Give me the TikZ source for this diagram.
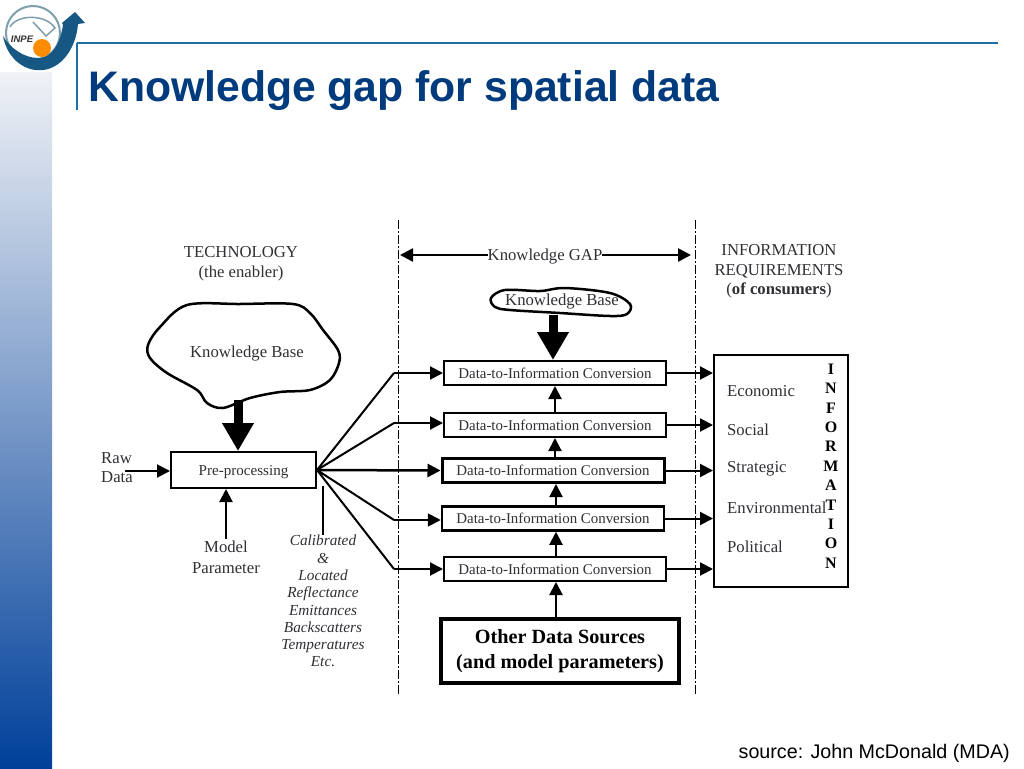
\documentclass[tikz,border=0pt]{standalone}
\usepackage{fontspec}
\setmainfont{Liberation Serif}
\newfontfamily\slidefont{Liberation Sans}
\usetikzlibrary{arrows.meta}

\definecolor{slideblue}{HTML}{003C7D}
\definecolor{rulecolor}{HTML}{1C6EA4}
\definecolor{inktext}{HTML}{303036}
\definecolor{bandtop}{HTML}{F0F2F6}
\definecolor{bandmid}{HTML}{8DABD2}
\definecolor{bandlow}{HTML}{00409A}

\tikzset{
  txt/.style={text=inktext, inner sep=0pt, font=\fontsize{16.7}{19.7}\selectfont},
  itxt/.style={txt, font=\fontsize{15.3}{17.3}\selectfont\itshape},
  boxnode/.style={draw=black, fill=white, line width=2pt, inner sep=0pt, text=inktext,
                  font=\fontsize{14.9}{16}\selectfont},
  convbox/.style={boxnode, minimum width=222pt, minimum height=24pt},
  link/.style={line width=2pt, -{Triangle[length=13pt,width=13pt]}},
  bigarrow/.style={line width=9pt, -{Triangle[length=28pt,width=30pt]}},
  cloudline/.style={line width=2.5pt, fill=white, smooth cycle, tension=0.55},
  gapline/.style={line width=1pt, dash pattern=on 9pt off 2pt on 2pt off 2pt}
}

\begin{document}
\begin{tikzpicture}[x=1pt, y=-1pt, >=stealth, line cap=butt]
  \useasboundingbox (0,0) rectangle (1024,768);
  \fill [white] (0,0) rectangle (1024,768);

  % side band and header
  \shade [top color=bandtop, middle color=bandmid, bottom color=bandlow]
      (0,72) rectangle (52,768);
  \draw [rulecolor, line width=2pt] (77,43) -- (998,43);
  \draw [rulecolor, line width=2pt] (77,43) -- (77,110);
  \node [anchor=west, inner sep=0pt, text=slideblue, font=\slidefont\bfseries\fontsize{42.7}{44}\selectfont]
      (title) at (88,91) {Knowledge gap for spatial data};
  \node [anchor=east, inner sep=0pt, font=\slidefont\fontsize{19.7}{22}\selectfont]
      (source) at (1010,753) {source: John McDonald (MDA)};

  % logo
  \draw [gray!70!cyan, line width=2pt] (33,33) circle (27);
  \draw [gray!70!cyan, line width=1.5pt] (10,27) .. controls (17,14) and (46,14) .. (55,28) -- (46,36) -- (33,22);
  \fill [rulecolor!80!black] (3,36) .. controls (8,62) and (28,72) .. (43,70)
      .. controls (62,68) and (76,48) .. (78,24) -- (85,23) -- (75,12) -- (62,23) -- (63,25)
      .. controls (60,44) and (52,58) .. (38,58) .. controls (24,58) and (10,48) .. (3,36) -- cycle;
  \fill [orange!90!yellow] (42,48) circle (9);
  \node [inner sep=0pt, text=black!80, font=\slidefont\bfseries\itshape\fontsize{9.5}{10}\selectfont]
      (inpe) at (22,39) {INPE};

  % zone limits
  \coordinate (gl1) at (398,220);
  \coordinate (gl2) at (398,695);
  \coordinate (gr1) at (695,220);
  \coordinate (gr2) at (695,695);
  \draw [gapline] (gl1) -- (gl2);
  \draw [gapline] (gr1) -- (gr2);

  % headings
  \node [txt, align=center] (tech) at (241,264) {TECHNOLOGY\\(the enabler)};
  \node [txt, align=center] (inforeq) at (779,271.5)
      {INFORMATION\\REQUIREMENTS\\(\textbf{of consumers})};
  \node [txt, text depth=0pt] (gap) at (545,255) {Knowledge GAP};
  \coordinate (gapl) at (400,255);
  \coordinate (gapr) at (691,255);
  \draw [link, line width=2.5pt] (gap.west) -- (gapl);
  \draw [link, line width=2.5pt] (gap.east) -- (gapr);

  % knowledge bases
  \draw [cloudline] plot coordinates {(187,305) (240,304) (293,304) (310,313) (323,330)
      (338,350) (339,363) (330,380) (310,390) (280,392) (250,398) (223,408) (207,403)
      (197,390) (167,373) (150,358) (148,345) (160,327)};
  \node [txt, text depth=0pt] (kbig) at (247,352) {Knowledge Base};
  \draw [cloudline] plot coordinates {(491,298) (505,290) (540,291) (565,288) (610,293)
      (630,304) (627,314) (610,316) (560,313) (510,310) (495,307)};
  \node [txt, text depth=0pt] (ksmall) at (562,300) {Knowledge Base};

  % left part
  \node [boxnode, text depth=0pt, font=\fontsize{15.1}{16}\selectfont, minimum width=145pt, minimum height=36pt]
      (pre) at (243.5,470) {Pre-processing};
  \coordinate (kbigfoot) at (238,400);
  \draw [bigarrow] (kbigfoot) -- (pre.north -| kbigfoot);
  \node [txt, align=left, anchor=west] (raw) at (101,467.5) {Raw\\Data};
  \coordinate (rawend) at (125,471);
  \draw [link] (rawend) -- (pre.west |- rawend);
  \node [txt, align=center, font=\fontsize{16.7}{21}\selectfont] (model) at (226,557.5)
      {Model\\Parameter};
  \coordinate (modelend) at (226,539);
  \draw [link] (modelend) -- (pre.south -| modelend);

  \node [itxt, align=center, anchor=north] (calib) at (323,535)
      {Calibrated\\\&\\Located\\Reflectance\\Emittances\\Backscatters\\Temperatures\\Etc.};
  \coordinate (calibtop) at (323,486);
  \draw [line width=2pt] (calib.north) -- (calibtop);

  % conversion boxes
  \foreach \k/\xc/\yc/\lw in {1/555/373/2pt, 2/555/425/2pt, 3/553/470.5/3pt, 4/553/518.5/2.5pt, 5/555/569/2pt}{
    \node [convbox, line width=\lw] (d\k) at (\xc,\yc) {Data-to-Information Conversion};
  }
  \node [boxnode, line width=3.5pt, minimum width=238pt, minimum height=64pt, align=center,
         text=black, font=\fontsize{20.2}{25}\selectfont\bfseries] (other) at (560,651)
      {Other Data Sources\\(and model parameters)};

  % information box
  \node [boxnode, minimum width=134pt, minimum height=232pt] (info) at (781,471) {};
  \foreach \name/\yc in {Economic/391, Social/430, Strategic/469, Environmental/508, Political/547}{
    \node [txt, anchor=west] (\name) at (727,\yc) {\name};
  }
  \foreach \ch [count=\k, evaluate={\yc=369+19.4*(\k-1);}] in {I,N,F,O,R,M,A,T,I,O,N}{
    \node [inner sep=0pt, font=\fontsize{16}{16}\selectfont\bfseries] (letter\k) at (831,\yc) {\ch};
  }

  % connectors
  \coordinate (ksmallfoot) at (553,315);
  \draw [bigarrow] (ksmallfoot) -- (d1.north -| ksmallfoot);
  \foreach \k/\yb in {1/373, 2/423, 4/520, 5/569}{
    \coordinate (bend\k) at (394,\yb);
    \draw [line width=2pt] (pre.east) -- (bend\k);
    \draw [link] (bend\k) -- (bend\k -| d\k.west);
  }
  \draw [link, line width=2.5pt] (pre.east) -- (d3.west);
  \foreach \k in {1,...,5}{
    \coordinate (out\k) at (d\k.east);
    \draw [link] (out\k) -- (out\k -| info.west);
  }
  \coordinate (u5) at (556,0);
  \coordinate (u4) at (556,0);
  \coordinate (u3) at (556,0);
  \coordinate (u2) at (555,0);
  \draw [link] (other.north -| u5) -- (d5.south -| u5);
  \draw [link] (d5.north -| u4) -- (d4.south -| u4);
  \draw [link] (d4.north -| u3) -- (d3.south -| u3);
  \draw [link] (d3.north -| u2) -- (d2.south -| u2);
  \draw [link] (d2.north -| u2) -- (d1.south -| u2);
\end{tikzpicture}
\end{document}
